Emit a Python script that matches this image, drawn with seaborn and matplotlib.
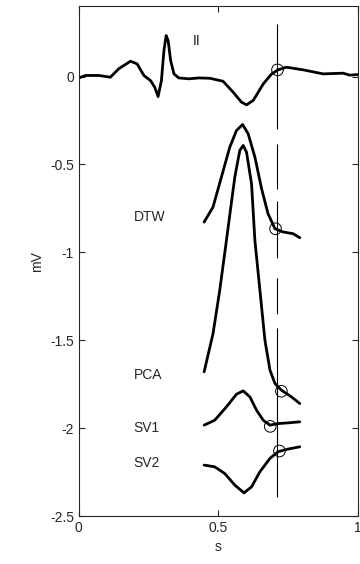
import numpy as np
import pandas as pd
import matplotlib
matplotlib.use("Agg")
import matplotlib.pyplot as plt
import seaborn as sns

# lead II, whole beat
ii_t = [0.0, 0.024, 0.072, 0.113, 0.143, 0.185, 0.209, 0.233, 0.257, 0.272, 0.284,
        0.296, 0.305, 0.313, 0.32, 0.329, 0.341, 0.358, 0.394, 0.43, 0.47, 0.517,
        0.553, 0.583, 0.601, 0.625, 0.661, 0.691, 0.714, 0.744, 0.804, 0.876,
        0.947, 0.971, 1.0]
ii_v = [-0.008, 0.006, 0.006, -0.004, 0.044, 0.087, 0.072, 0.006, -0.023, -0.061, -0.114,
        -0.023, 0.148, 0.233, 0.205, 0.091, 0.015, -0.008, -0.013, -0.008, -0.01, -0.027,
        -0.089, -0.146, -0.161, -0.136, -0.042, 0.015, 0.038, 0.053, 0.038, 0.015,
        0.019, 0.008, 0.011]

# T-wave estimates, drawn below lead II
dtw_t = [0.449, 0.481, 0.511, 0.541, 0.565, 0.587, 0.607, 0.631, 0.655, 0.678, 0.703,
         0.732, 0.768, 0.792]
dtw_v = [-0.828, -0.742, -0.572, -0.402, -0.307, -0.273, -0.326, -0.458, -0.638, -0.78,
         -0.866, -0.884, -0.894, -0.917]

pca_t = [0.449, 0.481, 0.505, 0.529, 0.559, 0.577, 0.589, 0.601, 0.619, 0.631, 0.649,
         0.667, 0.685, 0.703, 0.726, 0.762, 0.792]
pca_v = [-1.68, -1.462, -1.216, -0.932, -0.572, -0.42, -0.392, -0.43, -0.61, -0.932,
         -1.216, -1.5, -1.67, -1.746, -1.784, -1.822, -1.86]

sv1_t = [0.449, 0.487, 0.529, 0.565, 0.589, 0.613, 0.637, 0.661, 0.685, 0.714, 0.75, 0.792]
sv1_v = [-1.983, -1.955, -1.879, -1.807, -1.788, -1.822, -1.898, -1.955, -1.983, -1.974,
         -1.97, -1.964]

sv2_t = [0.449, 0.487, 0.523, 0.559, 0.592, 0.619, 0.649, 0.685, 0.714, 0.75, 0.792]
sv2_v = [-2.21, -2.22, -2.258, -2.324, -2.368, -2.334, -2.248, -2.172, -2.134, -2.119, -2.106]

# circled points (T-wave end)
mark_t = [0.712, 0.705, 0.726, 0.686, 0.719]
mark_v = [0.038, -0.866, -1.79, -1.99, -2.13]

labels = ["II", "DTW", "PCA", "SV1", "SV2"]
label_t = [0.41, 0.197, 0.197, 0.197, 0.197]
label_v = [0.2, -0.8, -1.7, -2.0, -2.2]

t_end = 0.71

sns.set_style("ticks")
plt.rcParams['font.family'] = ['Liberation Sans', 'DejaVu Sans']
plt.rcParams['axes.unicode_minus'] = False
plt.rcParams['lines.scale_dashes'] = False

fig = plt.figure(figsize=(3.6, 5.64), dpi=100)
ax = fig.add_axes([0.219, 0.085, 0.775, 0.904])

for t, v in [(ii_t, ii_v), (dtw_t, dtw_v), (pca_t, pca_v), (sv1_t, sv1_v), (sv2_t, sv2_v)]:
    sns.lineplot(x=t, y=v, ax=ax, color="black", lw=2, sort=False, estimator=None)

# reference line: solid at the ends, broken in the middle
ax.plot([t_end, t_end], [0.3, -2.39], color="black", lw=0.8,
        ls=(0, (75.6, 10.8, 32.4, 8.6, 41, 14.4, 25.9, 10.1, 130, 1000)))
sns.scatterplot(x=mark_t, y=mark_v, ax=ax, marker="o", s=70, facecolor="none",
                edgecolor="black", linewidth=0.7, zorder=5)

for lab, x, y in zip(labels, label_t, label_v):
    ax.text(x, y, lab, fontsize=10, va="center", ha="left")

ax.set_xlim(0, 1)
ax.set_ylim(-2.5, 0.4)
ax.set_xticks([0, 0.5, 1])
ax.set_xticklabels(["0", "0.5", "1"])
ax.set_yticks([0, -0.5, -1, -1.5, -2, -2.5])
ax.set_yticklabels(["0", "-0.5", "-1", "-1.5", "-2", "-2.5"])
ax.tick_params(direction="in", top=True, right=True, labelsize=10, length=4, width=0.8)
for s in ax.spines.values():
    s.set_linewidth(0.8)
ax.set_xlabel("s", fontsize=10)
ax.set_ylabel("mV", fontsize=10)

fig.savefig("out.png", dpi=100)
